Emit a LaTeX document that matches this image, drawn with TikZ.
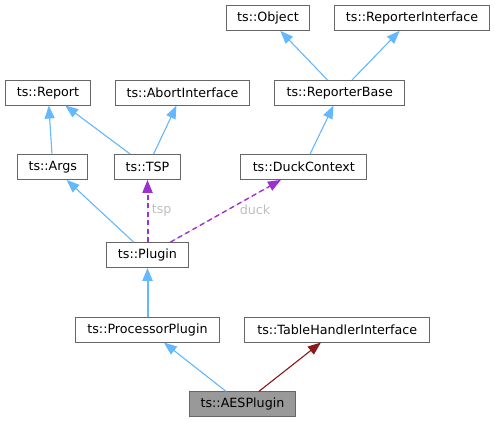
\documentclass[tikz,border=0pt]{standalone}
\usepackage{fontspec}
\setmainfont{DejaVu Sans}
\usepackage{tikz}
\usetikzlibrary{arrows.meta}
\definecolor{inhblue}{RGB}{99,184,255}
\definecolor{usepurple}{RGB}{154,50,205}
\definecolor{privred}{RGB}{139,26,26}
\definecolor{boxgrey}{RGB}{102,102,102}
\definecolor{lblgrey}{RGB}{190,190,190}
\definecolor{selgrey}{RGB}{153,153,153}

\begin{document}
\begin{tikzpicture}[x=1pt,y=-1pt]

%
% Styles
%
\tikzstyle{cls}   = [rectangle,draw=boxgrey,line width=1pt,fill=white,inner sep=0pt,
                     minimum height=24.7pt,font=\fontsize{12.7}{15}\selectfont]
\tikzstyle{sel}   = [cls,fill=selgrey]
\tikzstyle{edge}  = [-{Triangle[length=13pt,width=10pt]},line width=1.1pt,draw=inhblue,fill=inhblue]
\tikzstyle{edge2} = [-{Triangle[length=13pt,width=10pt]},line width=1.4pt,draw=usepurple,fill=usepurple,
                     dash pattern=on 5pt off 3.5pt]
\tikzstyle{edge3} = [-{Triangle[length=13pt,width=10pt]},line width=1.1pt,draw=privred,fill=privred]
\tikzstyle{lbl}   = [color=lblgrey,font=\fontsize{12.7}{15}\selectfont]

\useasboundingbox (0,0) rectangle (495,423);

\node[cls,minimum width=83.3pt]  (object)  at (268,18)    {ts::Object};
\node[cls,minimum width=155.3pt] (repintf) at (412,18)    {ts::ReporterInterface};
\node[cls,minimum width=84.7pt]  (report)  at (48,92.7)   {ts::Report};
\node[cls,minimum width=134pt]   (abort)   at (182.5,92.7) {ts::AbortInterface};
\node[cls,minimum width=129.7pt] (repbase) at (339.7,92.7) {ts::ReporterBase};
\node[cls,minimum width=70pt]    (args)    at (52.8,167)  {ts::Args};
\node[cls,minimum width=65.7pt]  (tsp)     at (147.5,167) {ts::TSP};
\node[cls,minimum width=126pt]   (duck)    at (303.8,167) {ts::DuckContext};
\node[cls,minimum width=82pt]    (plugin)  at (147.5,255) {ts::Plugin};
\node[cls,minimum width=144.7pt] (proc)    at (147.5,329.7) {ts::ProcessorPlugin};
\node[cls,minimum width=184.7pt] (table)   at (337.2,329.7) {ts::TableHandlerInterface};
\node[sel,minimum width=106pt]   (aes)     at (242.5,404.3) {ts::AESPlugin};

\node[lbl] (tsplbl)  at (161.7,210) {tsp};
\node[lbl] (ducklbl) at (255,210)   {duck};

\draw[edge]  (repbase) -- (object);
\draw[edge]  (repbase) -- (repintf);
\draw[edge]  (args)    -- (report);
\draw[edge]  (tsp)     -- (report);
\draw[edge]  (tsp)     -- (abort);
\draw[edge]  (duck)    -- (repbase);
\draw[edge]  (plugin)  -- (args);
\draw[edge2,line width=2pt] (plugin) -- (tsp);
\draw[edge2] (plugin)  -- (duck);
\draw[edge,line width=2pt] (proc) -- (plugin);
\draw[edge]  (aes)     -- (proc);
\draw[edge3] (aes)     -- (table);

\end{tikzpicture}
\end{document}
